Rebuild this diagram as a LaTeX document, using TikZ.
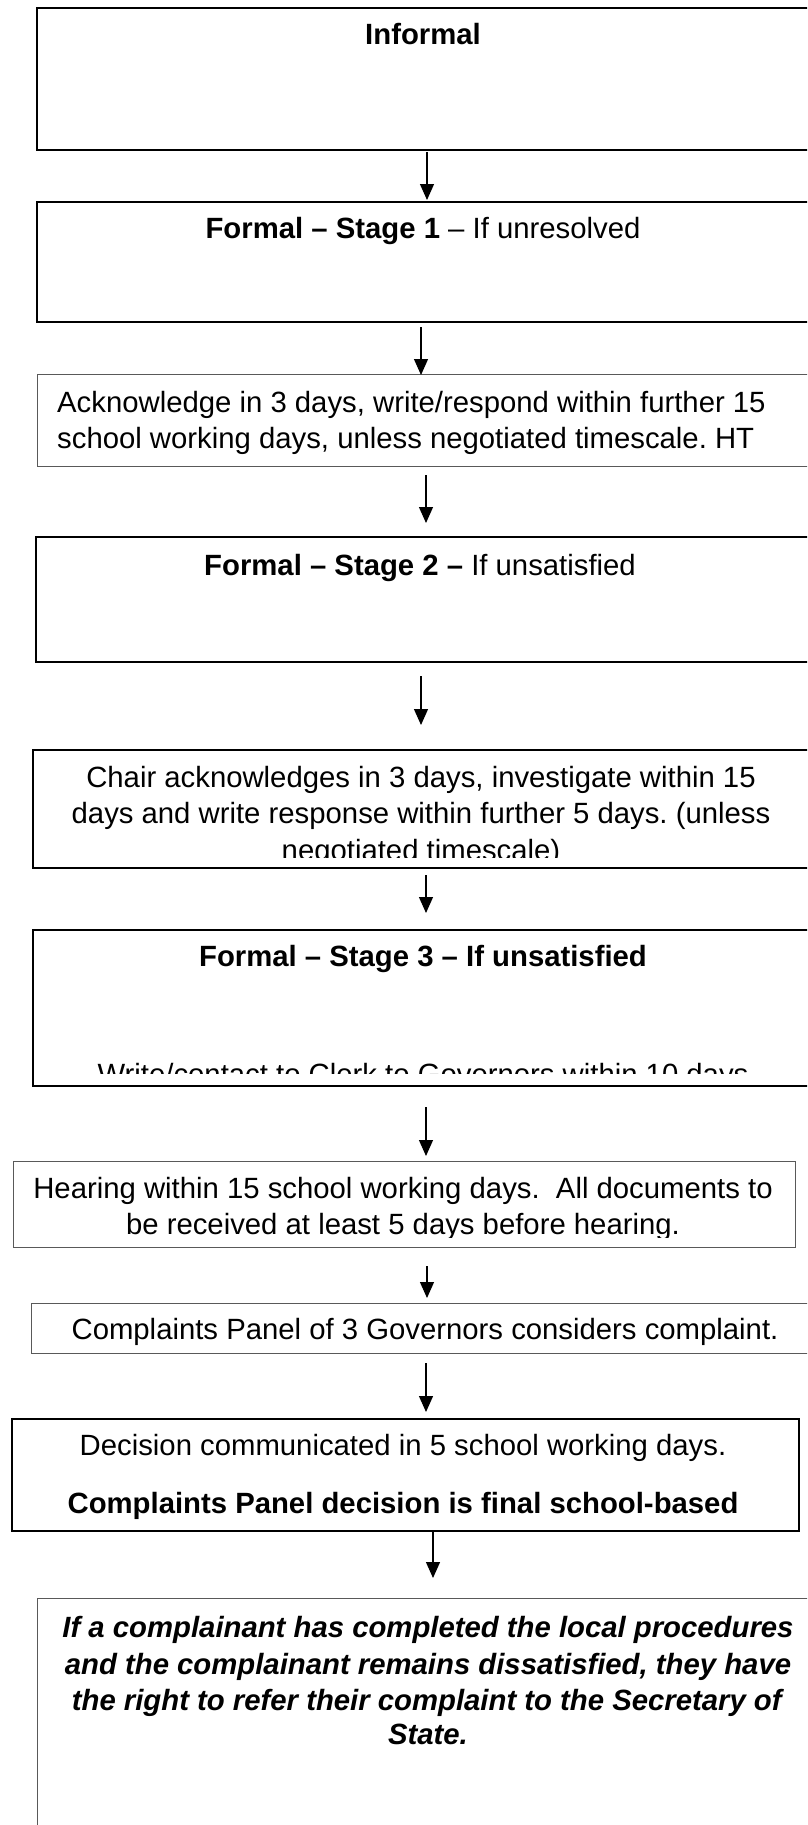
\documentclass[tikz,border=0pt]{standalone}
\usepackage{fontspec}
\setmainfont{Liberation Sans}
\usetikzlibrary{arrows.meta}
\frenchspacing
\newcommand{\fsz}{\fontsize{29.3}{36}\selectfont\frenchspacing}
\begin{document}
\begin{tikzpicture}[x=1pt,y=-1pt,
  thickbox/.style={draw=black,line width=2pt,inner sep=0pt,anchor=north west},
  thinbox/.style={draw=black!65,line width=1.1pt,inner sep=0pt,anchor=north west},
  txt/.style={font=\fsz,inner sep=0pt,anchor=base},
  txtl/.style={font=\fsz,inner sep=0pt,anchor=base west},
  arr/.style={line width=1.2pt,-{Triangle[length=16pt,width=14pt]}}]
\clip (0,0) rectangle (807,1825);
\fill[white] (0,0) rectangle (807,1825);
% boxes
\node[thickbox,minimum width=779pt,minimum height=142pt] (b1) at (36,7) {};
\node[thickbox,minimum width=779pt,minimum height=120pt] (b2) at (36,201) {};
\node[thinbox,minimum width=778pt,minimum height=92pt] (b3) at (37,374) {};
\node[thickbox,minimum width=780pt,minimum height=125pt] (b4) at (35,536) {};
\node[thickbox,minimum width=783pt,minimum height=118pt] (b5) at (32,749) {};
\node[thickbox,minimum width=783pt,minimum height=156pt] (b6) at (32,929) {};
\node[thinbox,minimum width=782pt,minimum height=86pt] (b7) at (13,1161) {};
\node[thinbox,minimum width=784pt,minimum height=50pt] (b8) at (31,1303) {};
\node[thickbox,minimum width=787pt,minimum height=112pt] (b9) at (11,1418) {};
\node[thinbox,minimum width=778pt,minimum height=240pt] (b10) at (37,1598) {};
% texts
\node[txt] (t1) at (423,45) {\textbf{Informal}};
\node[txt] (t2) at (423,238) {\textbf{Formal – Stage 1} – If unresolved};
\node[txtl] (t3a) at (57,412) {Acknowledge in 3 days, write/respond within further 15};
\node[txtl] (t3b) at (57,448) {school working days, unless negotiated timescale. HT};
\node[txt] (t4) at (420,575) {\textbf{Formal – Stage 2 –} If unsatisfied};
\node[txt] (t5a) at (421,787) {Chair acknowledges in 3 days, investigate within 15};
\node[txt] (t5b) at (421,823) {days and write response within further 5 days. (unless};
\begin{scope}
\clip (32,830) rectangle (807,857);
\node[txt] (t5c) at (421,860) {negotiated timescale)};
\end{scope}
\node[txt] (t6a) at (423,966) {\textbf{Formal – Stage 3 – If unsatisfied}};
\begin{scope}
\clip (32,1040) rectangle (807,1073);
\node[txt] (t6b) at (423,1084) {Write/contact to Clerk to Governors within 10 days};
\end{scope}
\node[txt] (t7a) at (403,1198) {Hearing within 15 school working days.~ All documents to};
\begin{scope}
\clip (13,1205) rectangle (795,1237);
\node[txt] (t7b) at (403,1234) {be received at least 5 days before hearing.};
\end{scope}
\node[txt] (t8) at (425,1339) {Complaints Panel of 3 Governors considers complaint.};
\node[txt] (t9a) at (403,1455) {Decision communicated in 5 school working days.};
\node[txt] (t9b) at (403,1513) {\textbf{Complaints Panel decision is final school-based}};
\node[txt] (t10a) at (428,1637) {\textbf{\itshape If a complainant has completed the local procedures}};
\node[txt] (t10b) at (428,1674) {\textbf{\itshape and the complainant remains dissatisfied, they have}};
\node[txt] (t10c) at (428,1710) {\textbf{\itshape the right to refer their complaint to the Secretary of}};
\node[txt] (t10d) at (428,1744) {\textbf{\itshape State.}};
% arrows
\coordinate (a1s) at (427,152); \coordinate (a1e) at (427,200);
\coordinate (a2s) at (421,327); \coordinate (a2e) at (421,375);
\coordinate (a3s) at (426,475); \coordinate (a3e) at (426,523);
\coordinate (a4s) at (421,676); \coordinate (a4e) at (421,725);
\coordinate (a5s) at (426,875); \coordinate (a5e) at (426,913);
\coordinate (a6s) at (426,1107); \coordinate (a6e) at (426,1156);
\coordinate (a7s) at (427,1266); \coordinate (a7e) at (427,1298);
\coordinate (a8s) at (426,1363); \coordinate (a8e) at (426,1412);
\coordinate (a9s) at (433,1532); \coordinate (a9e) at (433,1578);
\foreach \i in {1,...,9} {\draw[arr] (a\i s) -- (a\i e);}
\end{tikzpicture}
\end{document}
